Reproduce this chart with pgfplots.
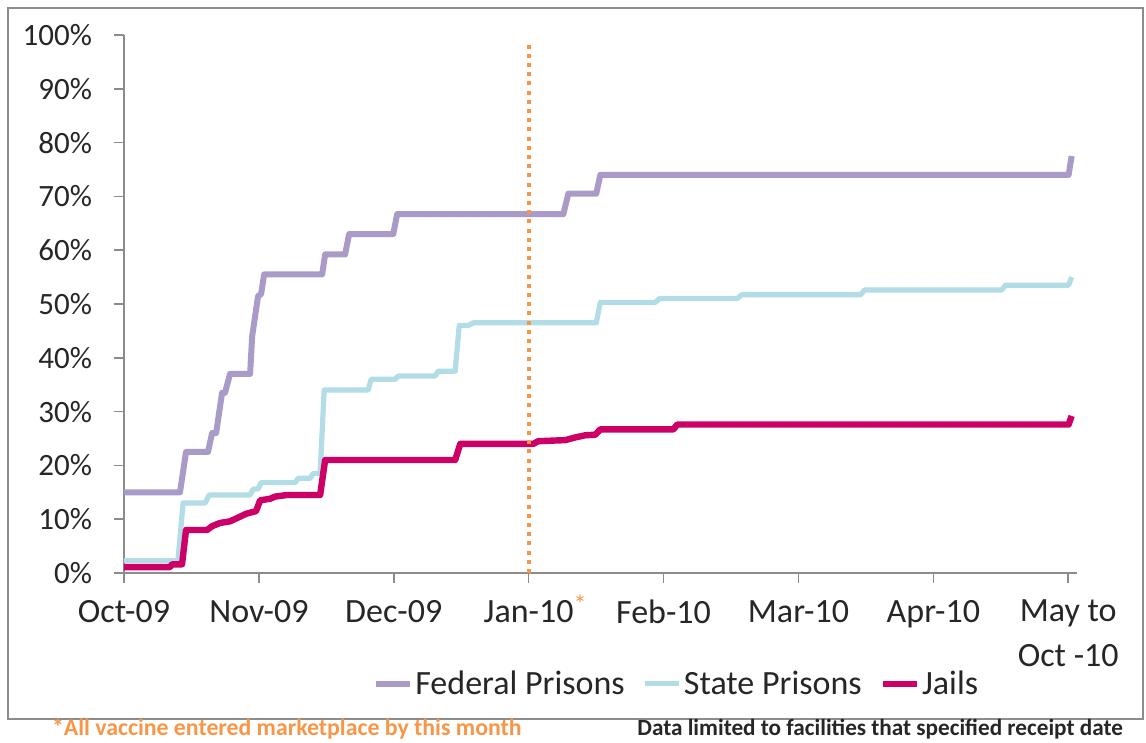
\documentclass[border=0pt]{standalone}
\usepackage{pgfplots}
\pgfplotsset{compat=1.18}
\usepackage{fontspec}
\setmainfont{Carlito}
\definecolor{fedc}{HTML}{AA9AC8}
\definecolor{statec}{HTML}{B2DDE6}
\definecolor{jailc}{HTML}{CC0066}
\definecolor{vorange}{HTML}{F79646}
\definecolor{axgray}{HTML}{8C8C8C}
\begin{document}
\begin{tikzpicture}
\useasboundingbox (0,0) rectangle (573pt,371.5pt);
\draw[axgray, line width=0.8pt] (4pt,12pt) rectangle (571.5pt,367.5pt);
\begin{axis}[
  at={(62pt,85pt)}, anchor=south west,
  scale only axis, width=476.5pt, height=269pt,
  xmin=0, xmax=7.065, ymin=0, ymax=100,
  axis x line*=bottom, axis y line*=left,
  axis line style={axgray, line width=0.8pt},
  tick align=outside, major tick length=5pt,
  tick style={axgray, line width=0.8pt},
  xtick={0,1,2,3,4,5,6,7},
  xticklabels={Oct-09,Nov-09,Dec-09,{Jan-10\rlap{\smash{\textcolor{vorange}{\raisebox{0.25em}{\fontsize{13}{13}\selectfont*}}}}},Feb-10,Mar-10,Apr-10,{May to\\Oct -10}},
  xticklabel style={align=center, font=\fontsize{17}{22.5}\selectfont, text=black!85, anchor=north, yshift=-5pt},
  ytick={0,10,...,100},
  yticklabel={\pgfmathprintnumber{\tick}\%},
  /pgf/number format/assume math mode=true,
  yticklabel style={font=\fontsize{15.5}{18}\selectfont, text=black!85, xshift=-7.5pt},
  legend style={at={(0.58,-0.206)}, anchor=center, draw=none, fill=none,
    legend columns=3, font=\fontsize{17}{19}\selectfont, text=black!85,
    /tikz/every even column/.append style={column sep=8pt},
    inner sep=0pt, nodes={inner sep=1pt}},
  legend image code/.code={\draw[#1] (0pt,0pt) -- (17pt,0pt);},
  legend cell align=left,
  clip=false,
]
\addplot[fedc, line width=3pt, line join=round] coordinates {
(0,15) (0.415,15) (0.46,22.5) (0.623,22.5) (0.653,26) (0.683,26) (0.727,33.5) (0.749,33.5)
(0.786,37) (0.935,37) (0.95,44) (0.994,51.5) (1.016,51.8) (1.039,55.5) (1.469,55.5)
(1.491,59.2) (1.639,59.2) (1.669,63) (1.996,63) (2.025,66.7) (3.257,66.7) (3.294,70.5)
(3.501,70.5) (3.531,74) (7.003,74) (7.025,77.5)};
\addlegendentry{Federal Prisons}
\addplot[statec, line width=2.6pt, line join=round] coordinates {
(0,2.3) (0.40,2.3) (0.438,13) (0.601,13) (0.631,14.5) (0.935,14.5) (0.957,15.6) (0.994,15.6)
(1.016,16.8) (1.269,16.8) (1.291,17.6) (1.380,17.6) (1.402,18.5) (1.454,18.5) (1.484,34)
(1.810,34) (1.832,36) (2.010,36) (2.033,36.6) (2.307,36.6) (2.329,37.5) (2.455,37.5)
(2.485,46) (2.552,46) (2.589,46.5) (3.501,46.5) (3.531,50.3) (3.939,50.3) (3.969,51)
(4.547,51) (4.577,51.7) (5.460,51.7) (5.490,52.6) (6.506,52.6) (6.536,53.5) (7.003,53.5) (7.025,55)};
\addlegendentry{State Prisons}
\addplot[jailc, line width=3.2pt, line join=round] coordinates {
(0,1.1) (0.341,1.1) (0.356,1.6) (0.430,1.6) (0.46,8) (0.616,8) (0.653,8.7) (0.712,9.3)
(0.786,9.6) (0.846,10.3) (0.905,11) (0.979,11.5) (1.009,13.5) (1.083,13.8) (1.12,14.2)
(1.209,14.5) (1.454,14.5) (1.491,21) (2.455,21) (2.493,24) (3.034,24) (3.071,24.5)
(3.272,24.7) (3.346,25.2) (3.42,25.6) (3.494,25.7) (3.531,26.7) (4.073,26.7) (4.102,27.6)
(7.003,27.6) (7.025,29.2)};
\addlegendentry{Jails}
\addplot[vorange, line width=2pt, dash pattern=on 2pt off 2.6pt, forget plot] coordinates {(3,0) (3,99)};
\end{axis}
\node[anchor=west, font=\bfseries\fontsize{11.9}{13}\selectfont, text=vorange] at (22.5pt,7pt) {*All vaccine entered marketplace by this month};
\node[anchor=east, font=\bfseries\fontsize{11.6}{13}\selectfont, text=black!85] at (565pt,7pt) {Data limited to facilities that specified receipt date};
\end{tikzpicture}
\end{document}
